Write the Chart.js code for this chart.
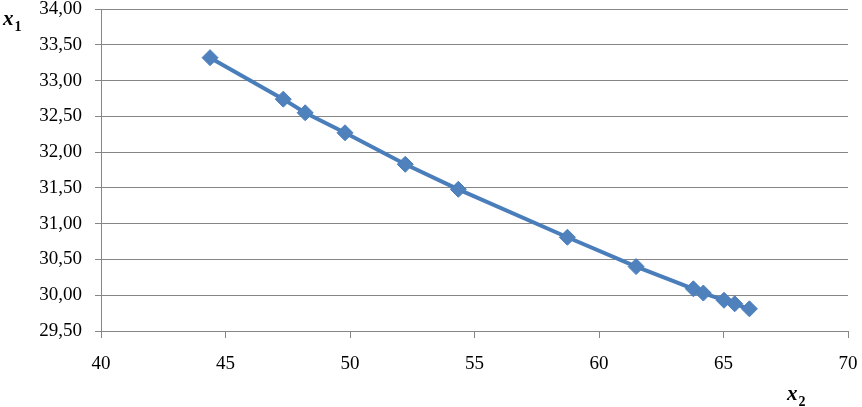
<!DOCTYPE html>
<html>
<head>
<meta charset="utf-8">
<script src="https://cdn.jsdelivr.net/npm/chart.js@4/dist/chart.umd.min.js"></script>
<style>
html,body{margin:0;padding:0;background:#fff;}
#wrap{width:862px;height:407px;position:relative;}
</style>
</head>
<body>
<div id="wrap"><canvas id="c" width="862" height="407"></canvas></div>
<script>
const x2Values = [44.38, 47.32, 48.20, 49.80, 52.22, 54.35, 58.73, 61.49, 63.79, 64.19, 65.02, 65.45, 66.04];
const x1Values = [33.32, 32.74, 32.55, 32.27, 31.83, 31.48, 30.81, 30.40, 30.09, 30.03, 29.93, 29.88, 29.81];
const xTicks = [40, 45, 50, 55, 60, 65, 70];
const yTicks = [29.5, 30.0, 30.5, 31.0, 31.5, 32.0, 32.5, 33.0, 33.5, 34.0];
const xTitle = ['x', '2'];
const yTitle = ['x', '1'];

const points = x2Values.map((v, i) => ({x: v, y: x1Values[i]}));
const gridColor = '#868686';
const FAM = '"Liberation Serif", "Times New Roman", serif';
const font = {family: FAM, size: 19};

const titlePlugin = {
  id: 'titles',
  afterDraw(chart) {
    const ctx = chart.ctx;
    ctx.save();
    ctx.fillStyle = '#000';
    ctx.textBaseline = 'alphabetic';
    function draw(t, x, y) {
      ctx.font = 'italic bold 21px ' + FAM;
      ctx.fillText(t[0], x, y);
      const w = ctx.measureText(t[0]).width;
      ctx.font = 'bold 14px ' + FAM;
      ctx.fillText(t[1], x + w + 1, y + 6);
    }
    draw(yTitle, 3, 25);
    draw(xTitle, 787, 400);
    ctx.restore();
  }
};

function noPad(axis) {
  axis.paddingLeft = 0; axis.paddingRight = 0;
  axis.paddingTop = 0; axis.paddingBottom = 0;
}

function build() {
  new Chart(document.getElementById('c'), {
    type: 'scatter',
    data: {
      datasets: [{
        data: points,
        showLine: true,
        borderColor: '#4A7EBB',
        backgroundColor: '#4F81BD',
        borderWidth: 4,
        pointStyle: 'rectRot',
        pointRadius: 8,
        pointHoverRadius: 8,
        pointBorderWidth: 1,
        pointBorderColor: '#4A7EBB',
        tension: 0
      }]
    },
    options: {
      responsive: false,
      animation: false,
      events: [],
      layout: {padding: {left: 0, top: 6, right: 14, bottom: 0}},
      plugins: {legend: {display: false}, tooltip: {enabled: false}, title: {display: false}},
      scales: {
        x: {
          type: 'linear',
          min: 40, max: 70,
          afterBuildTicks(axis) { axis.ticks = xTicks.map(v => ({value: v})); },
          afterFit(axis) { axis.height = 407 - 6 - 325; noPad(axis); },
          grid: {display: true, drawOnChartArea: false, drawTicks: true, tickLength: 7, color: gridColor},
          border: {display: true, color: gridColor, width: 1},
          ticks: {color: '#000', font: font, padding: 15, maxRotation: 0,
            callback: v => String(v)}
        },
        y: {
          type: 'linear',
          min: 29.5, max: 34,
          afterBuildTicks(axis) { axis.ticks = yTicks.map(v => ({value: v})); },
          afterFit(axis) { axis.width = 101; noPad(axis); },
          grid: {display: true, drawOnChartArea: true, drawTicks: true, tickLength: 6, color: gridColor},
          border: {display: true, color: gridColor, width: 1},
          ticks: {color: '#000', font: font, padding: 13,
            callback: v => v.toFixed(2).replace('.', ',')}
        }
      }
    },
    plugins: [titlePlugin]
  });
}

Promise.all([
  document.fonts.load('19px "Liberation Serif"'),
  document.fonts.load('italic bold 21px "Liberation Serif"'),
  document.fonts.load('bold 14px "Liberation Serif"')
]).then(build, build);
</script>
</body>
</html>
